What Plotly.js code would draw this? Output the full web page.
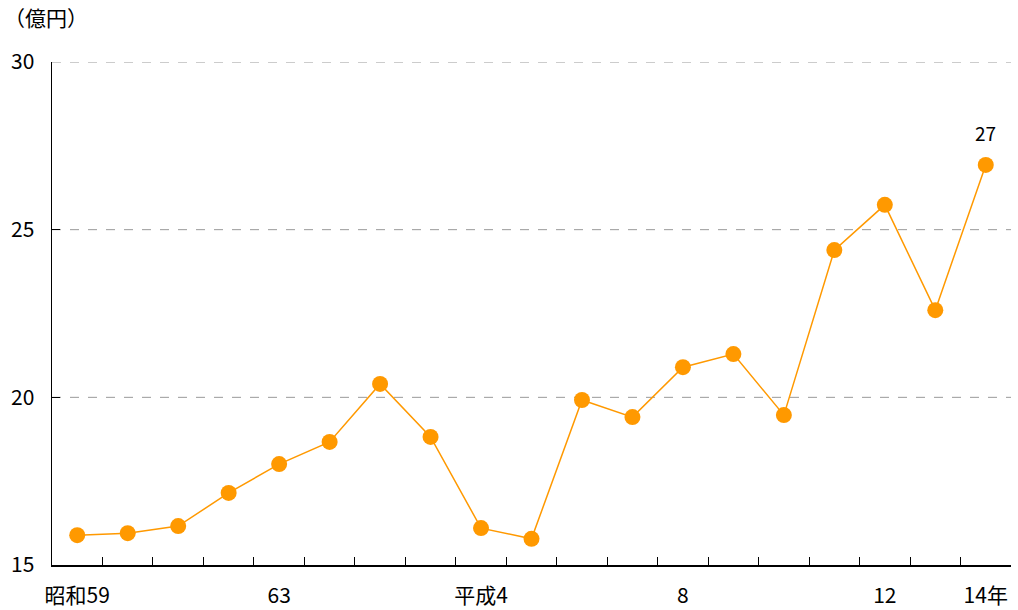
<!DOCTYPE html>
<html>
<head>
<meta charset="utf-8">
<script src="https://cdn.plot.ly/plotly-3.0.1.min.js"></script>
<style>html,body{margin:0;padding:0;background:#fff;}#chart{width:1018px;height:610px;}</style>
</head>
<body>
<div id="chart"></div>
<script>
const years = ["昭和59","60","61","62","63","平成元","2","3","4","5","6","7","8","9","10","11","12","13","14"];
const values = [15.89, 15.95, 16.16, 17.15, 18.01, 18.67, 20.40, 18.82, 16.10, 15.78, 19.92, 19.41, 20.90, 21.29, 19.47, 24.39, 25.74, 22.60, 26.93];
const tickIdx = [0, 4, 8, 12, 16, 18];
const tickLabels = ["昭和59", "63", "平成4", "8", "12", "14年"];
const yTicks = [15, 20, 25, 30];

const FONT = '"Noto Sans CJK JP", "Noto Sans", sans-serif';
const FS = 21;
const xs = years.map((_, i) => i);
const n = years.length;
const boundaries = [];
for (let i = 0; i <= n; i++) boundaries.push(i - 0.5);

const trace = {
  x: xs, y: values, type: 'scatter', mode: 'lines+markers',
  line: {color: '#FF9900', width: 1.5},
  marker: {color: '#FF9900', size: 16},
  hoverinfo: 'skip', showlegend: false
};
const trace2 = {
  x: xs, y: values, xaxis: 'x2', type: 'scatter', mode: 'none',
  hoverinfo: 'skip', showlegend: false
};
const last = n - 1;
const gridShapes = yTicks.filter(v => v > yTicks[0]).map(v => ({
  type: 'line', xref: 'paper', yref: 'y', x0: 0, x1: 1, y0: v, y1: v,
  line: {color: '#999', width: 1, dash: 'dash'}, layer: 'below'
}));
const layout = {
  width: 1018, height: 610,
  margin: {l: 52, r: 7, t: 62, b: 45},
  paper_bgcolor: '#fff', plot_bgcolor: '#fff',
  font: {family: FONT, size: FS, color: '#000'},
  xaxis: {
    range: [-0.5, n - 0.5], tickmode: 'array', tickvals: boundaries,
    showticklabels: false, ticks: 'inside', ticklen: 8, tickcolor: '#000', tickwidth: 1,
    showline: true, linecolor: '#000', linewidth: 1.5, showgrid: false, zeroline: false
  },
  xaxis2: {
    overlaying: 'x', side: 'bottom', range: [-0.5, n - 0.5], tickmode: 'array',
    tickvals: tickIdx, ticktext: tickLabels, ticks: '', showline: false, showgrid: false,
    zeroline: false, ticklabelstandoff: 16, tickfont: {family: FONT, size: FS, color: '#000'}
  },
  yaxis: {
    range: [15, 30], tickmode: 'array', tickvals: yTicks, ticktext: yTicks.map(String),
    ticks: 'inside', ticklen: 8, tickcolor: '#000', tickwidth: 1, ticklabelstandoff: 12,
    showline: true, linecolor: '#000', linewidth: 1.5,
    showgrid: false, zeroline: false,
    tickfont: {family: FONT, size: FS, color: '#000'}
  },
  shapes: gridShapes,
  annotations: [
    {xref: 'paper', yref: 'paper', x: -0.052, y: 1.055, xanchor: 'left', yanchor: 'bottom',
     text: '（億円）', showarrow: false, font: {family: FONT, size: FS, color: '#000'}},
    {xref: 'x', yref: 'y', x: last, y: values[last], text: String(Math.round(values[last])),
     showarrow: false, yshift: 32, font: {family: FONT, size: 19, color: '#000'}}
  ]
};
Plotly.newPlot('chart', [trace, trace2], layout, {displayModeBar: false, staticPlot: true});
</script>
</body>
</html>
